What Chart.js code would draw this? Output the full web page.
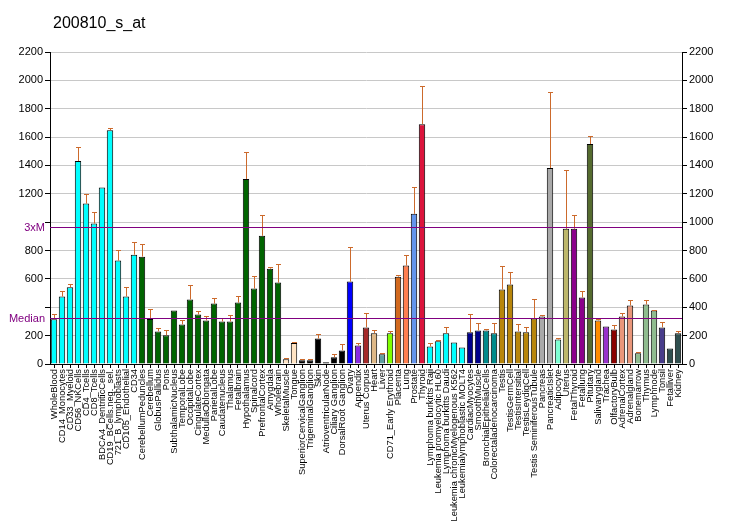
<!DOCTYPE html>
<html>
<head>
<meta charset="utf-8">
<script src="https://cdn.jsdelivr.net/npm/chart.js@4/dist/chart.umd.min.js"></script>
<style>
  body { margin: 0; background: #fff; }
  canvas { display: block; }
</style>
</head>
<body>
<canvas id="chart" width="732" height="530"></canvas>
<script>
const title = "200810_s_at";

const tissues = [
  "WholeBlood", "CD14_Monocytes", "CD33_Myeloid", "CD56_NKCells", "CD4_Tcells",
  "CD8_Tcells", "BDCA4_DentriticCells", "CD19_BCells.neg._sel.", "721_B_lymphoblasts", "CD105_Endothelial",
  "CD34", "CerebellumPeduncles", "Cerebellum", "GlobusPallidus", "Pons",
  "SubthalamicNucleus", "TemporalLobe", "OccipitalLobe", "CingulateCortex", "MedullaOblongata",
  "ParietalLobe", "Caudatenucleus", "Thalamus", "Fetalbrain", "Hypothalamus",
  "Spinalcord", "PrefrontalCortex", "Amygdala", "Wholebrain", "SkeletalMuscle",
  "Tongue", "SuperiorCervicalGanglion", "TrigeminalGanglion", "Skin", "AtrioventricularNode",
  "Ciliary Ganglion", "DorsalRoot Ganglion", "Ovary", "Appendix", "Uterus Corpus",
  "Heart", "Liver", "CD71_Early Erythroid", "Placenta", "Lung",
  "Prostate", "Thyroid", "Lymphoma burkitts Raji", "Leukemia promyelocytic HL60", "Lymphoma burkitts Daudi",
  "Leukemia chronicMyelogenous K562", "Leukemialymphoblastic MOLT4", "CardiacMyocytes", "SmoothMuscle", "BronchialEpithelialCells",
  "Colorectaladenocarcinoma", "Testis", "TestisGermCell", "TestisIntersitial", "TestisLeydigCell",
  "Testis SeminiferousTubule", "Pancreas", "PancreaticIslet", "Adipocyte", "Uterus",
  "FetalThyroid", "Fetallung", "Pituitary", "Salivarygland", "Trachea",
  "OlfactoryBulb", "AdrenalCortex", "Adrenalgland", "Bonemarrow", "Thymus",
  "Lymphnode", "Tonsil", "Fetalliver", "Kidney"
];

const values = [
  316, 476, 541, 1431, 1131, 991, 1244, 1649, 729, 476,
  771, 757, 318, 230, 202, 377, 279, 455, 349, 307,
  426, 300, 300, 433, 1305, 532, 904, 672, 574, 33,
  148, 26, 26, 180, 12, 47, 96, 581, 131, 258,
  216, 68, 216, 616, 694, 1059, 1691, 124, 160, 216,
  152, 117, 223, 237, 237, 216, 525, 560, 230, 223,
  321, 335, 1382, 173, 953, 953, 469, 1551, 307, 265,
  244, 335, 412, 75, 420, 377, 258, 110, 216
];

// top of the error whisker (null = none drawn)
const errorTops = [
  356, 518, 567, 1530, 1200, 1073, null, 1663, 806, 541,
  862, 848, 391, 251, 237, null, 311, 560, 377, 335,
  462, 326, 349, 483, 1495, 623, 1052, 684, 708, 44,
  152, 33, 33, 209, null, 68, 138, 827, 145, 363,
  237, 75, 230, 630, 771, 1249, 1958, 145, 167, 258,
  null, null, 356, 286, 244, 286, 694, 651, 279, 258,
  455, 349, 1916, 180, 1368, 1052, 518, 1607, 314, null,
  272, 363, 448, 82, 448, 384, 293, null, 230
];

const barColors = [
  ...Array(11).fill("#00FFFF"),
  ...Array(18).fill("#006400"),
  "#FFE4C4", "#FFE4C4",
  ...Array(6).fill("#000000"),
  "#0000FF", "#8A2BE2", "#A52A2A", "#DEB887", "#5F9EA0",
  "#7FFF00", "#D2691E", "#FF7F50", "#6495ED", "#DC143C",
  ...Array(5).fill("#00FFFF"),
  "#00008B", "#00008B", "#008B8B", "#008B8B",
  ...Array(5).fill("#B8860B"),
  "#A9A9A9", "#A9A9A9", "#7FFFD4", "#BDB76B", "#8B008B",
  "#8B008B", "#556B2F", "#FF8C00", "#9932CC", "#8B0000",
  "#E9967A", "#E9967A", "#8FBC8F", "#8FBC8F", "#8FBC8F",
  "#483D8B", "#2F4F4F", "#2F4F4F"
];

const median = 321;
const threeXM = 968;
const yTicks = [0, 200, 400, 600, 800, 1000, 1200, 1400, 1600, 1800, 2000, 2200];

const FONT = "'Liberation Sans', Arial, sans-serif";

// ========== PLUGINS ==========
const errorBars = {
  id: "errorBars",
  afterDatasetsDraw(chart) {
    const ctx = chart.ctx;
    const y = chart.scales.y;
    const meta = chart.getDatasetMeta(0);
    ctx.save();
    ctx.strokeStyle = "#CC6A2C";
    ctx.lineWidth = 1;
    meta.data.forEach((bar, i) => {
      const top = errorTops[i];
      if (top == null || top <= values[i]) return;
      const x = Math.round(bar.x) + 0.5;
      const yTop = Math.round(y.getPixelForValue(top)) + 0.5;
      ctx.beginPath();
      ctx.moveTo(x, bar.y);
      ctx.lineTo(x, yTop);
      ctx.moveTo(x - 2.5, yTop);
      ctx.lineTo(x + 2.5, yTop);
      ctx.stroke();
    });
    ctx.restore();
  }
};

const refLines = {
  id: "refLines",
  afterDatasetsDraw(chart) {
    const ctx = chart.ctx;
    const y = chart.scales.y;
    const area = chart.chartArea;
    ctx.save();
    ctx.strokeStyle = "#800080";
    ctx.fillStyle = "#800080";
    ctx.lineWidth = 1;
    ctx.font = "11px " + FONT;
    ctx.textAlign = "right";
    ctx.textBaseline = "middle";
    [[threeXM, "3xM"], [median, "Median"]].forEach(([v, txt]) => {
      const py = Math.round(y.getPixelForValue(v)) + 0.5;
      ctx.beginPath();
      ctx.moveTo(area.left, py);
      ctx.lineTo(area.right, py);
      ctx.stroke();
      ctx.fillText(txt, area.left - 5, py);
    });
    ctx.restore();
  }
};

const titleText = {
  id: "titleText",
  afterDraw(chart) {
    const ctx = chart.ctx;
    ctx.save();
    ctx.fillStyle = "#000";
    ctx.font = "16px " + FONT;
    ctx.textAlign = "left";
    ctx.textBaseline = "alphabetic";
    ctx.fillText(title, 53, 28);
    ctx.restore();
  }
};

// ========== CHART ==========
const ctx = document.getElementById("chart").getContext("2d");

new Chart(ctx, {
  type: "bar",
  data: {
    labels: tissues,
    datasets: [{
      data: values,
      backgroundColor: barColors,
      borderColor: "#000",
      borderWidth: 1,
      categoryPercentage: 1,
      barPercentage: 0.8
    }]
  },
  options: {
    responsive: false,
    animation: false,
    layout: { padding: { top: 52, left: 0, right: 0, bottom: 0 } },
    plugins: {
      legend: { display: false },
      tooltip: { enabled: false }
    },
    scales: {
      x: {
        grid: { offset: false, drawOnChartArea: false, tickLength: 4, color: "#000" },
        border: { color: "#000" },
        ticks: {
          autoSkip: false,
          minRotation: 90,
          maxRotation: 90,
          padding: 1,
          color: "#000",
          font: { family: FONT, size: 9.3 }
        },
        afterFit(scale) { scale.height = 166; }
      },
      y: {
        position: "left",
        min: 0,
        max: 2200,
        afterBuildTicks(scale) { scale.ticks = yTicks.map(v => ({ value: v })); },
        grid: { color: "#C8C8C8", tickColor: "#000", tickLength: 5 },
        border: { color: "#000" },
        ticks: {
          color: "#000",
          padding: 2,
          font: { family: FONT, size: 11 },
          callback: v => (v === 400 || v === 1000) ? "" : String(v)
        },
        afterFit(scale) { scale.width = 50; }
      },
      y2: {
        position: "right",
        min: 0,
        max: 2200,
        afterBuildTicks(scale) { scale.ticks = yTicks.map(v => ({ value: v })); },
        grid: { drawOnChartArea: false, tickColor: "#000", tickLength: 5 },
        border: { color: "#000" },
        ticks: {
          color: "#000",
          padding: 2,
          font: { family: FONT, size: 11 },
          callback: v => String(v)
        },
        afterFit(scale) { scale.width = 50; }
      }
    }
  },
  plugins: [errorBars, refLines, titleText]
});
</script>
</body>
</html>
